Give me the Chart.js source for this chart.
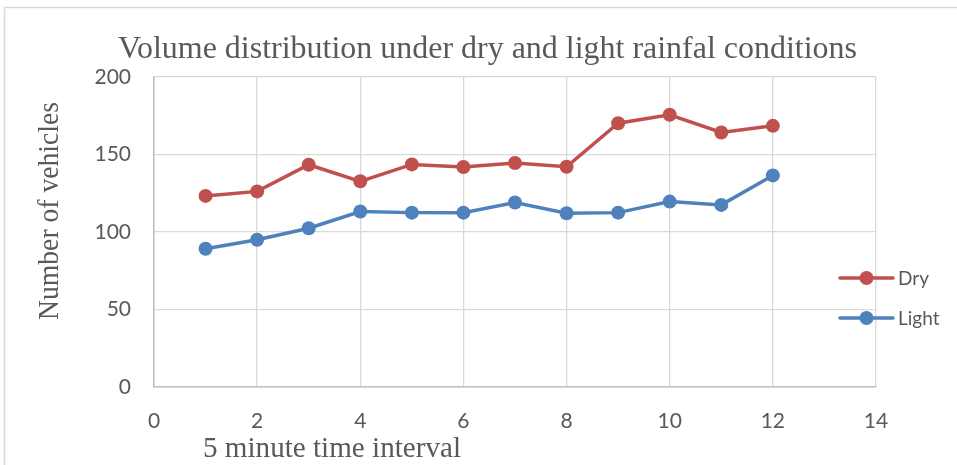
<!DOCTYPE html>
<html>
<head>
<meta charset="utf-8">
<script src="https://cdn.jsdelivr.net/npm/chart.js@4"></script>
<style>
  html, body { margin: 0; padding: 0; background: #ffffff; }
  #wrap { width: 957px; height: 465px; position: relative; }
</style>
</head>
<body>
<div id="wrap"><canvas id="c" width="957" height="465"></canvas></div>
<script>
// ---- data ----
const intervals = [1, 2, 3, 4, 5, 6, 7, 8, 9, 10, 11, 12];
const dryValues = [123.3, 126.2, 143.4, 132.7, 143.6, 141.9, 144.5, 142.1, 170.2, 175.6, 164.2, 168.5];
const lightValues = [89.2, 95.0, 102.4, 113.2, 112.5, 112.5, 119.0, 112.1, 112.5, 119.6, 117.5, 136.5];
const seriesNames = ['Dry', 'Light'];
const xTicks = [0, 2, 4, 6, 8, 10, 12, 14];
const yTicks = [0, 50, 100, 150, 200];
const chartTitle = 'Volume distribution under dry and light rainfal conditions';
const xTitle = '5 minute time interval';
const yTitle = 'Number of vehicles';

const RED = '#C0504D';
const BLUE = '#4F81BD';
const TEXT = '#595959';
const GRID = '#d9d9d9';

function toPoints(xs, ys) { return xs.map((x, i) => ({ x: x, y: ys[i] })); }

// draw text squeezed horizontally to a target width
function fitText(ctx, text, x, y, font, targetWidth, align) {
  ctx.save();
  ctx.font = font;
  const w = ctx.measureText(text).width;
  const sx = targetWidth / w;
  ctx.translate(x, y);
  ctx.scale(sx, 1);
  ctx.textAlign = align || 'left';
  ctx.textBaseline = 'alphabetic';
  ctx.fillStyle = TEXT;
  ctx.fillText(text, 0, 0);
  ctx.restore();
}

const decorPlugin = {
  id: 'decor',
  beforeDraw(chart) {
    const ctx = chart.ctx;
    ctx.save();
    ctx.strokeStyle = GRID;
    ctx.lineWidth = 1.5;
    ctx.beginPath();
    ctx.moveTo(4.5, 465);
    ctx.lineTo(4.5, 7.5);
    ctx.lineTo(957, 7.5);
    ctx.stroke();
    ctx.restore();
  },
  afterDraw(chart) {
    const ctx = chart.ctx;
    const a = chart.chartArea;
    // chart title
    fitText(ctx, chartTitle, 118, 58, '32px "Liberation Serif", "Times New Roman", serif', 739, 'left');
    // x axis title
    fitText(ctx, xTitle, a.left + 49, 457, '29px "Liberation Serif", "Times New Roman", serif', 258, 'left');
    // y axis title (rotated)
    ctx.save();
    ctx.translate(58, 211);
    ctx.rotate(-Math.PI / 2);
    fitText(ctx, yTitle, 0, 0, '29px "Liberation Serif", "Times New Roman", serif', 218, 'center');
    ctx.restore();
    // legend (line + marker), overlapping the plot's right edge as in the reference
    const items = chart.data.datasets;
    const lx0 = 840, lx1 = 893, tx = 898;
    const ys = [278, 318];
    items.forEach((ds, i) => {
      const y = ys[i];
      ctx.save();
      ctx.strokeStyle = ds.borderColor;
      ctx.lineWidth = 3.5;
      ctx.lineCap = 'round';
      ctx.beginPath();
      ctx.moveTo(lx0, y);
      ctx.lineTo(lx1, y);
      ctx.stroke();
      ctx.fillStyle = ds.borderColor;
      ctx.beginPath();
      ctx.arc((lx0 + lx1) / 2, y, 7, 0, Math.PI * 2);
      ctx.fill();
      ctx.fillStyle = TEXT;
      ctx.font = '19px Lato, "Open Sans", sans-serif';
      ctx.textBaseline = 'middle';
      ctx.textAlign = 'left';
      ctx.fillText(ds.label, tx, y + 1);
      ctx.restore();
    });
  }
};

new Chart(document.getElementById('c'), {
  type: 'line',
  data: {
    datasets: [
      {
        label: seriesNames[0],
        data: toPoints(intervals, dryValues),
        borderColor: RED,
        backgroundColor: RED,
        borderWidth: 3.5,
        pointRadius: 7,
        pointHoverRadius: 7,
        pointBorderWidth: 0,
        pointBackgroundColor: RED,
        tension: 0
      },
      {
        label: seriesNames[1],
        data: toPoints(intervals, lightValues),
        borderColor: BLUE,
        backgroundColor: BLUE,
        borderWidth: 3.5,
        pointRadius: 7,
        pointHoverRadius: 7,
        pointBorderWidth: 0,
        pointBackgroundColor: BLUE,
        tension: 0
      }
    ]
  },
  options: {
    responsive: false,
    animation: false,
    devicePixelRatio: 1,
    layout: { padding: { left: 0, right: 81, top: 77, bottom: 0 } },
    plugins: {
      legend: { display: false },
      title: { display: false },
      tooltip: { enabled: false }
    },
    scales: {
      x: {
        type: 'linear',
        min: xTicks[0],
        max: xTicks[xTicks.length - 1],
        afterBuildTicks(s) { s.ticks = xTicks.map(v => ({ value: v })); },
        afterFit(s) { s.height = 465 - 387; },
        grid: { color: GRID, lineWidth: 1.3, drawTicks: false },
        border: { color: '#bfbfbf', width: 1.5 },
        ticks: {
          color: TEXT,
          font: { family: 'Lato, "Open Sans", sans-serif', size: 21 },
          padding: 22,
          maxRotation: 0
        }
      },
      y: {
        min: yTicks[0],
        max: yTicks[yTicks.length - 1],
        afterBuildTicks(s) { s.ticks = yTicks.map(v => ({ value: v })); },
        afterFit(s) { s.width = 154; },
        grid: { color: GRID, lineWidth: 1.3, drawTicks: false },
        border: { color: '#bfbfbf', width: 1.5 },
        ticks: {
          color: TEXT,
          font: { family: 'Lato, "Open Sans", sans-serif', size: 21 },
          padding: 23
        }
      }
    }
  },
  plugins: [decorPlugin]
});
</script>
</body>
</html>
